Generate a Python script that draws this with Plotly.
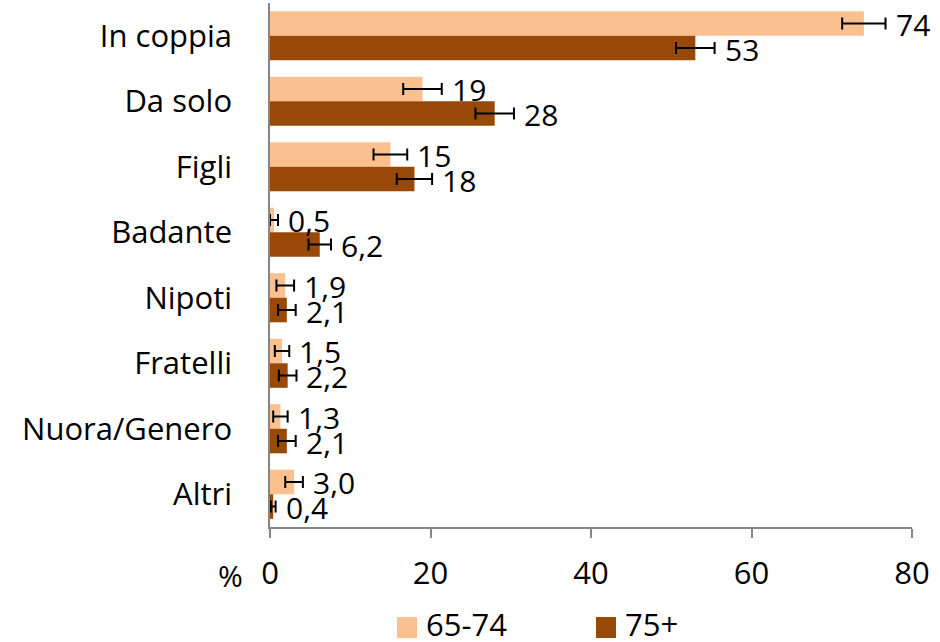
import plotly.graph_objects as go

# Living arrangements by age group (%), with error margins
categories = ["In coppia", "Da solo", "Figli", "Badante", "Nipoti",
              "Fratelli", "Nuora/Genero", "Altri"]
values_6574 = [74, 19, 15, 0.5, 1.9, 1.5, 1.3, 3.0]
values_75 = [53, 28, 18, 6.2, 2.1, 2.2, 2.1, 0.4]
err_6574 = [2.7, 2.4, 2.1, 0.5, 1.1, 0.9, 0.9, 1.1]
err_75 = [2.4, 2.4, 2.2, 1.4, 1.1, 1.1, 1.1, 0.3]
labels_6574 = ["74", "19", "15", "0,5", "1,9", "1,5", "1,3", "3,0"]
labels_75 = ["53", "28", "18", "6,2", "2,1", "2,2", "2,1", "0,4"]
x_ticks = [0, 20, 40, 60, 80]

series_names = ["65-74", "75+"]
colors = ["#FAC090", "#984807"]
FONT = "Open Sans"
BAR_W = 0.375

W, H = 940, 642
ML, MR, MT, MB = 270, 28, 3, 115


def px_x(px):
    """pixel column -> paper x (relative to plot area)"""
    return (px - ML) / (W - ML - MR)


def px_y(py):
    """pixel row -> paper y (relative to plot area)"""
    return (H - MB - py) / (H - MT - MB)


idx = list(range(len(categories)))
pos_6574 = [i - BAR_W / 2 for i in idx]
pos_75 = [i + BAR_W / 2 for i in idx]

fig = go.Figure()

for name, vals, errs, pos, col in [
    (series_names[0], values_6574, err_6574, pos_6574, colors[0]),
    (series_names[1], values_75, err_75, pos_75, colors[1]),
]:
    fig.add_trace(go.Bar(
        name=name, orientation="h", x=vals, y=pos, width=BAR_W,
        marker=dict(color=col, line=dict(width=0)),
        error_x=dict(type="data", array=errs, visible=True,
                     color="black", thickness=2, width=6),
        showlegend=False,
    ))

# value labels placed just past the error bar
annotations = []
for vals, errs, pos, labs in [
    (values_6574, err_6574, pos_6574, labels_6574),
    (values_75, err_75, pos_75, labels_75),
]:
    for v, e, p, t in zip(vals, errs, pos, labs):
        annotations.append(dict(
            x=v + e, y=p, xref="x", yref="y", text=t, showarrow=False,
            xanchor="left", yanchor="middle", xshift=8, yshift=-1,
            font=dict(family=FONT, size=30, color="black"),
        ))

# percent sign beside the x tick labels
annotations.append(dict(
    x=px_x(230), y=px_y(575), xref="paper", yref="paper", text="%",
    showarrow=False, xanchor="center", yanchor="middle",
    font=dict(family=FONT, size=30, color="black"),
))

# legend drawn as swatches + labels
shapes = []
legend_items = [(397, series_names[0], colors[0]), (596, series_names[1], colors[1])]
for x0, name, col in legend_items:
    shapes.append(dict(type="rect", xref="paper", yref="paper",
                       x0=px_x(x0), x1=px_x(x0 + 20),
                       y0=px_y(638), y1=px_y(617),
                       fillcolor=col, line=dict(width=0)))
    annotations.append(dict(
        x=px_x(x0 + 27), y=px_y(624), xref="paper", yref="paper",
        text=name, showarrow=False, xanchor="left", yanchor="middle",
        font=dict(family=FONT, size=31, color="black"),
    ))

fig.update_layout(
    width=W, height=H,
    margin=dict(l=ML, r=MR, t=MT, b=MB),
    paper_bgcolor="white", plot_bgcolor="white",
    annotations=annotations,
    shapes=shapes,
    showlegend=False,
    xaxis=dict(
        range=[0, 80], tickvals=x_ticks, ticktext=[str(t) for t in x_ticks],
        showgrid=False, zeroline=False,
        showline=True, linecolor="#868686", linewidth=1.5,
        ticks="outside", ticklen=9, tickcolor="#868686", tickwidth=1.5,
        tickfont=dict(family=FONT, size=31, color="black"),
        ticklabelstandoff=9,
    ),
    yaxis=dict(
        range=[7.5, -0.5], tickvals=idx, ticktext=categories,
        showgrid=False, zeroline=False,
        showline=True, linecolor="#868686", linewidth=1.5,
        ticks="", ticklabelstandoff=30,
        tickfont=dict(family=FONT, size=31, color="black"),
    ),
)

fig.write_html("out.html")
